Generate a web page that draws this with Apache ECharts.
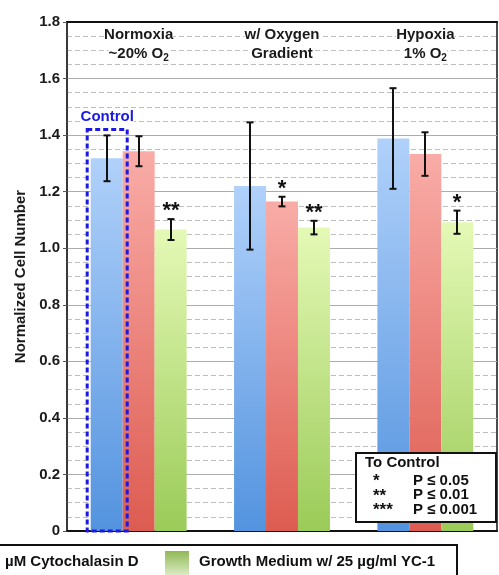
<!DOCTYPE html>
<html>
<head>
<meta charset="utf-8">
<script src="https://cdn.jsdelivr.net/npm/echarts@6/dist/echarts.min.js"></script>
<style>
html,body{margin:0;padding:0;background:#fff;}
#chart{width:499px;height:575px;}
</style>
</head>
<body>
<div id="chart"></div>
<script>
// ---- data ----
const categoryLine1 = ['Normoxia', 'w/ Oxygen', 'Hypoxia'];
const categoryLine2 = ['~20% O{sub|2}', 'Gradient', '1% O{sub|2}'];
const seriesNames = ['Growth Medium', 'µM Cytochalasin D', 'Growth Medium w/ 25 µg/ml YC-1'];
const growthMedium = [1.318, 1.220, 1.388];
const cytochalasinD = [1.343, 1.165, 1.333];
const yc1 = [1.066, 1.073, 1.092];
const growthMediumErr = [0.081, 0.225, 0.178];
const cytochalasinDErr = [0.053, 0.017, 0.077];
const yc1Err = [0.037, 0.024, 0.041];
const growthMediumSig = ['', '', ''];
const cytochalasinDSig = ['', '*', ''];
const yc1Sig = ['**', '**', '*'];
const yTicks = [0, 0.2, 0.4, 0.6, 0.8, 1.0, 1.2, 1.4, 1.6, 1.8];
const controlTop = 1.42;
const sigLegendRows = [['*', 'P ≤ 0.05'], ['**', 'P ≤ 0.01'], ['***', 'P ≤ 0.001']];

const values = [growthMedium, cytochalasinD, yc1];
const errs = [growthMediumErr, cytochalasinDErr, yc1Err];
const sigs = [growthMediumSig, cytochalasinDSig, yc1Sig];

const FONT = '"Liberation Sans", Arial, sans-serif';
const BAR_FRAC = 0.223;

function grad(top, bottom) {
  return new echarts.graphic.LinearGradient(0, 0, 0, 1, [
    {offset: 0, color: top}, {offset: 1, color: bottom}
  ]);
}
const barColors = [
  grad('#b0d1fa', '#5393df'),
  grad('#f9aca7', '#dd5c51'),
  grad('#e4f9b6', '#9bcb58')
];

const categories = categoryLine1.map((c, i) => c + '\n' + categoryLine2[i]);

const errData = [];
for (let g = 0; g < categories.length; g++) {
  for (let s = 0; s < 3; s++) errData.push([g, values[s][g]]);
}

const chart = echarts.init(document.getElementById('chart'), null, {renderer: 'canvas', width: 499, height: 575});

const option = {
  backgroundColor: '#fff',
  animation: false,
  textStyle: {fontFamily: FONT},
  grid: {left: 67, right: 2, top: 22, bottom: 44, show: true, borderColor: '#111', borderWidth: 1.5, backgroundColor: 'transparent'},
  xAxis: [
    {
      type: 'category', data: categories, position: 'bottom',
      axisLine: {show: true, lineStyle: {color: '#111', width: 2}},
      axisTick: {show: false}, axisLabel: {show: false}, splitLine: {show: false}
    },
    {
      type: 'category', data: categories, position: 'top',
      axisLine: {show: true, lineStyle: {color: '#111', width: 2}},
      axisTick: {show: false},
      axisLabel: {
        show: true, inside: true, margin: 3, interval: 0, hideOverlap: false,
        fontFamily: FONT, fontSize: 15, fontWeight: 'bold', color: '#1a1a1a', lineHeight: 19,
        formatter: function (v, i) { return '{a|' + categoryLine1[i] + '}\n{a|' + categoryLine2[i].replace('{sub|2}', '}{sub|2}{a|') + '}'; },
        rich: {
          a: {fontFamily: FONT, fontSize: 15, fontWeight: 'bold', color: '#1a1a1a', backgroundColor: '#fff', lineHeight: 19},
          sub: {fontFamily: FONT, fontSize: 10, fontWeight: 'bold', color: '#1a1a1a', backgroundColor: '#fff', lineHeight: 19, verticalAlign: 'bottom', padding: [6, 0, 0, 0]}
        }
      }
    }
  ],
  yAxis: {
    type: 'value', min: 0, max: 1.8, interval: 0.2,
    name: 'Normalized Cell Number', nameLocation: 'middle', nameGap: 30,
    nameTextStyle: {fontFamily: FONT, fontSize: 15, fontWeight: 'bold', color: '#1a1a1a'},
    axisLine: {show: true, lineStyle: {color: '#333', width: 1.5}},
    axisTick: {show: true, length: 4, lineStyle: {color: '#555'}},
    axisLabel: {
      fontFamily: FONT, fontSize: 15, fontWeight: 'bold', color: '#1a1a1a', margin: 7,
      formatter: function (v) {
        const t = yTicks.find(x => Math.abs(x - v) < 1e-6);
        return t === 0 ? '0' : (t !== undefined ? t.toFixed(1) : '');
      }
    },
    splitLine: {show: true, lineStyle: {color: '#acacac', width: 1}},
    minorTick: {show: false, splitNumber: 4},
    minorSplitLine: {show: true, lineStyle: {color: '#bdbdbd', width: 1, type: [5, 3]}}
  },
  series: [
    ...[0, 1, 2].map(s => ({
      type: 'bar', name: seriesNames[s], data: values[s],
      barWidth: (BAR_FRAC * 100) + '%', barGap: '0%',
      itemStyle: {color: barColors[s]}, z: 2
    })),
    {
      type: 'custom', name: 'errors', data: errData, z: 5, clip: false,
      renderItem: function (params, api) {
        const idx = params.dataIndex;
        const g = Math.floor(idx / 3), s = idx % 3;
        const v = values[s][g], e = errs[s][g], sig = sigs[s][g];
        const c = api.coord([g, v]);
        const band = api.size([1, 0])[0];
        const x = Math.round(c[0] + (s - 1) * band * BAR_FRAC);
        const yt = api.coord([g, v + e])[1];
        const yb = api.coord([g, v - e])[1];
        const st = {stroke: '#111', lineWidth: 2};
        const cap = 3.5;
        const children = [
          {type: 'line', shape: {x1: x, y1: yt, x2: x, y2: yb}, style: st},
          {type: 'line', shape: {x1: x - cap, y1: yt, x2: x + cap, y2: yt}, style: st},
          {type: 'line', shape: {x1: x - cap, y1: yb, x2: x + cap, y2: yb}, style: st}
        ];
        if (sig) {
          children.push({type: 'text', style: {text: sig, x: x, y: yt - 8, align: 'center', verticalAlign: 'middle',
            font: 'bold 22px ' + FONT, fill: '#111'}});
        }
        return {type: 'group', children: children};
      }
    }
  ]
};
chart.setOption(option);

// annotations computed from the axes
const p0 = chart.convertToPixel({xAxisIndex: 0, yAxisIndex: 0}, [0, controlTop]);
const p1 = chart.convertToPixel({xAxisIndex: 0, yAxisIndex: 0}, [1, 0]);
const bandW = p1[0] - p0[0];
const blueC = p0[0] - bandW * BAR_FRAC;
const boxX1 = blueC - 19.5, boxX2 = blueC + 20.5;
const boxTop = p0[1];
const boxBottom = p1[1];

const sigRowTexts = [];
sigLegendRows.forEach((r, i) => {
  sigRowTexts.push({type: 'text', left: 373, top: 473 + i * 14.5, z: 20,
    style: {text: r[0], font: 'bold 17px ' + FONT, fill: '#111'}});
  sigRowTexts.push({type: 'text', left: 413, top: 473 + i * 14.5, z: 20,
    style: {text: r[1], font: 'bold 15px ' + FONT, fill: '#111'}});
});

chart.setOption({
  graphic: [
    {type: 'rect', z: 10, shape: {x: boxX1, y: boxTop, width: boxX2 - boxX1, height: boxBottom - boxTop},
      style: {fill: 'none', stroke: '#1a1ae0', lineWidth: 3, lineDash: [5, 3]}},
    {type: 'text', z: 10, x: (boxX1 + boxX2) / 2, y: boxTop - 13,
      style: {text: 'Control', align: 'center', verticalAlign: 'middle', font: 'bold 15px ' + FONT, fill: '#1a1ae0', backgroundColor: '#fff'}},
    {type: 'rect', z: 19, shape: {x: 356, y: 453, width: 140, height: 69},
      style: {fill: '#fff', stroke: '#111', lineWidth: 2}},
    {type: 'text', z: 20, left: 365, top: 455,
      style: {text: 'To Control', font: 'bold 15px ' + FONT, fill: '#111'}},
    ...sigRowTexts,
    {type: 'rect', z: 19, shape: {x: -10, y: 545, width: 467, height: 50},
      style: {fill: '#fff', stroke: '#111', lineWidth: 2}},
    {type: 'text', z: 20, left: 5, top: 554,
      style: {text: 'µM Cytochalasin D', font: 'bold 15px ' + FONT, fill: '#111'}},
    {type: 'rect', z: 20, shape: {x: 165, y: 551, width: 24, height: 30},
      style: {fill: new echarts.graphic.LinearGradient(0, 0, 0, 1, [{offset: 0, color: '#8fb855'}, {offset: 1, color: '#eef8de'}])}},
    {type: 'text', z: 20, left: 199, top: 554,
      style: {text: 'Growth Medium w/ 25 µg/ml YC-1', font: 'bold 15px ' + FONT, fill: '#111'}}
  ]
});
</script>
</body>
</html>
